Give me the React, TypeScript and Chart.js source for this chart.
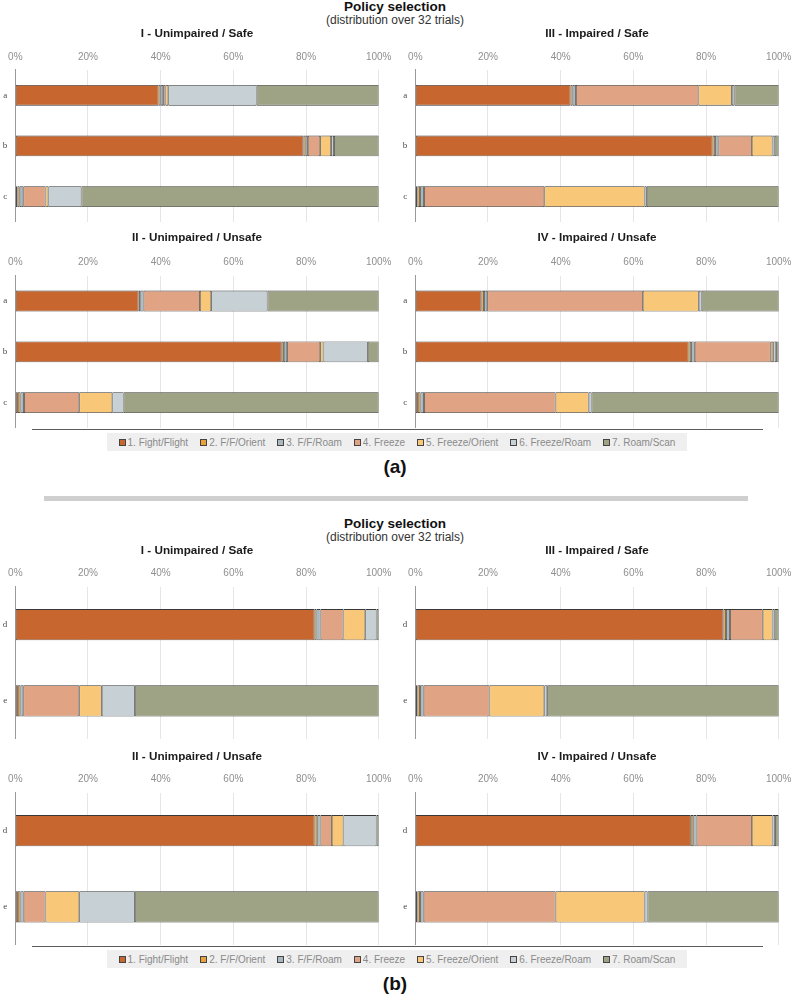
import React, { useEffect, useRef } from 'react';
import { Chart, registerables } from 'chart.js';

Chart.register(...registerables);

const SANS = '"Liberation Sans", Arial, Helvetica, sans-serif';
const SERIF = '"Liberation Serif", "DejaVu Serif", serif';

// ---------- data ----------
const categoriesA = ['a', 'b', 'c'];
const categoriesB = ['d', 'e'];
const policyLabels = [
  '1. Fight/Flight',
  '2. F/F/Orient',
  '3. F/F/Roam',
  '4. Freeze',
  '5. Freeze/Orient',
  '6. Freeze/Roam',
  '7. Roam/Scan',
];
const xTickLabels = ['0%', '20%', '40%', '60%', '80%', '100%'];
const panelTitles = [
  'I - Unimpaired / Safe',
  'II - Unimpaired / Unsafe',
  'III - Impaired / Safe',
  'IV - Impaired / Unsafe',
];
const figureTitle = 'Policy selection';
const figureSubtitle = '(distribution over 32 trials)';
const figureLabels = ['(a)', '(b)'];

// each row = one category, values in % per policy (1..7)
const figA_I = [
  [39.4, 0.6, 0.7, 0.6, 0.8, 24.3, 33.6],
  [79.3, 0.6, 0.6, 3.4, 3.0, 0.8, 12.3],
  [0.6, 0.6, 1.0, 6.1, 0.8, 9.1, 81.8],
];
const figA_II = [
  [33.9, 0.5, 0.9, 15.5, 3.1, 15.5, 30.6],
  [73.3, 0.6, 0.9, 9.1, 0.9, 12.2, 3.0],
  [0.7, 0.7, 1.0, 15.2, 9.1, 3.1, 70.2],
];
const figA_III = [
  [42.7, 0.6, 0.9, 33.7, 9.2, 0.7, 12.2],
  [81.8, 0.7, 0.9, 9.2, 5.7, 0.6, 1.1],
  [0.6, 0.7, 1.1, 33.1, 27.6, 0.6, 36.3],
];
const figA_IV = [
  [18.2, 0.7, 0.9, 42.8, 15.4, 0.8, 21.2],
  [75.2, 0.7, 1.0, 20.9, 0.7, 0.8, 0.7],
  [0.7, 0.7, 1.0, 36.2, 9.1, 0.8, 51.5],
];
const figB_I = [
  [82.3, 0.6, 1.1, 6.3, 6.0, 3.1, 0.6],
  [0.7, 0.7, 0.8, 15.4, 6.2, 9.1, 67.1],
];
const figB_II = [
  [82.3, 0.8, 0.9, 3.1, 3.2, 9.1, 0.6],
  [0.7, 0.7, 0.9, 6.0, 9.3, 15.3, 67.1],
];
const figB_III = [
  [84.8, 0.7, 1.1, 9.0, 2.7, 0.6, 1.1],
  [0.6, 0.7, 1.0, 18.1, 15.1, 0.8, 63.7],
];
const figB_IV = [
  [75.8, 0.7, 0.9, 15.2, 5.7, 0.7, 1.0],
  [0.6, 0.7, 1.0, 36.3, 24.5, 0.8, 36.1],
];

// ---------- styles ----------
const policyColors = ['#C8662F', '#E9A23B', '#A9B8BF', '#E0A383', '#F8C878', '#C6D0D5', '#9DA384'];

type PanelProps = {
  left: number;
  top: number;
  width: number;
  height: number;
  xAxisH: number;
  yAxisW: number;
  padRight: number;
  title: string;
  cats: string[];
  rows: number[][];
};

function Panel({ left, top, width, height, xAxisH, yAxisW, padRight, title, cats, rows }: PanelProps) {
  const ref = useRef<HTMLCanvasElement | null>(null);
  useEffect(() => {
    if (!ref.current) return;
    const chart = new Chart(ref.current, {
      type: 'bar',
      data: {
        labels: cats,
        datasets: policyLabels.map((label, i) => ({
          label,
          data: rows.map((r) => r[i]),
          backgroundColor: policyColors[i],
          borderColor: '#383838',
          borderWidth: 0.8,
          borderSkipped: false,
          barPercentage: 0.41,
          categoryPercentage: 1,
        })),
      },
      options: {
        indexAxis: 'y',
        responsive: false,
        maintainAspectRatio: false,
        animation: false,
        layout: { padding: { left: 0, right: padRight, top: 0, bottom: 0 } },
        plugins: {
          legend: { display: false },
          tooltip: { enabled: false },
          title: {
            display: true,
            fullSize: false,
            text: title,
            color: '#1b1b1b',
            font: { family: SANS, size: 11.7, weight: 'bold', lineHeight: 1.2 },
            padding: 0,
          },
        },
        scales: {
          x: {
            type: 'linear',
            stacked: true,
            position: 'top',
            min: 0,
            max: 100,
            ticks: {
              stepSize: 20,
              padding: 7,
              color: '#8f8f8f',
              font: { family: SANS, size: 10 },
              maxRotation: 0,
              autoSkip: false,
              callback: (_v: any, i: number) => xTickLabels[i],
            },
            grid: {
              color: (ctx: any) => (ctx.index === 0 ? 'rgba(0,0,0,0)' : '#e6e6e6'),
              lineWidth: 1,
              drawTicks: false,
            },
            border: { display: false },
            afterFit: (s: any) => {
              s.height = xAxisH;
              s.paddingLeft = 0;
              s.paddingRight = 0;
            },
          },
          y: {
            type: 'category',
            stacked: true,
            ticks: { padding: 8, color: '#4a4a4a', font: { family: SERIF, size: 9 } },
            grid: { display: false, drawTicks: false },
            border: { display: true, color: '#9a9a9a', width: 1 },
            afterFit: (s: any) => {
              s.width = yAxisW;
              s.paddingTop = 0;
              s.paddingBottom = 0;
            },
          },
        },
      },
    } as any);
    return () => chart.destroy();
  }, []);
  return (
    <canvas
      ref={ref}
      width={width}
      height={height}
      style={{ position: 'absolute', left, top, width, height, display: 'block' }}
    />
  );
}

function Text({ x, y, size, bold, color, children }: any) {
  return (
    <div
      style={{
        position: 'absolute',
        left: x,
        top: y,
        transform: 'translate(-50%, -50%)',
        fontFamily: SANS,
        fontSize: size,
        fontWeight: bold ? 'bold' : 'normal',
        color,
        lineHeight: 1,
        whiteSpace: 'nowrap',
      }}
    >
      {children}
    </div>
  );
}

function Legend({ top }: { top: number }) {
  return (
    <>
      <div style={{ position: 'absolute', left: 32, top: top - 4, width: 731, height: 1, background: '#5a5a5a' }} />
      <div
        style={{
          position: 'absolute',
          left: 107,
          top,
          width: 580,
          height: 18,
          background: '#efefef',
          display: 'flex',
          alignItems: 'center',
          justifyContent: 'center',
          gap: 12,
          fontFamily: SANS,
          fontSize: 10,
          color: '#8a8a8a',
          whiteSpace: 'nowrap',
        }}
      >
        {policyLabels.map((l, i) => (
          <div key={l} style={{ display: 'flex', alignItems: 'center' }}>
            <span
              style={{
                display: 'inline-block',
                width: 5,
                height: 5,
                background: policyColors[i],
                border: '0.8px solid #444',
                marginRight: 2,
              }}
            />
            <span>{l}</span>
          </div>
        ))}
      </div>
    </>
  );
}

function Figure({ offset, rows, cats, label, firstTopH, secondTopH }: any) {
  const t1 = 27 + offset;
  const t2 = offset === 0 ? 231 : 750;
  return (
    <>
      <Text x={395} y={6.6 + offset} size={13.5} bold color="#111">
        {figureTitle}
      </Text>
      <Text x={395} y={20 + offset} size={12} color="#333">
        {figureSubtitle}
      </Text>
      <Panel left={0} top={t1} width={395} height={195} xAxisH={firstTopH} yAxisW={15.3} padRight={16.3} title={panelTitles[0]} cats={cats} rows={rows[0]} />
      <Panel left={400} top={t1} width={393} height={195} xAxisH={firstTopH} yAxisW={15.3} padRight={14.3} title={panelTitles[2]} cats={cats} rows={rows[2]} />
      <Panel left={0} top={t2} width={395} height={offset === 0 ? 197 : 195} xAxisH={secondTopH} yAxisW={15.3} padRight={16.3} title={panelTitles[1]} cats={cats} rows={rows[1]} />
      <Panel left={400} top={t2} width={393} height={offset === 0 ? 197 : 195} xAxisH={secondTopH} yAxisW={15.3} padRight={14.3} title={panelTitles[3]} cats={cats} rows={rows[3]} />
      <Legend top={433 + offset} />
      <Text x={395} y={465.5 + offset} size={19} bold color="#111">
        {label}
      </Text>
    </>
  );
}

export default function App() {
  return (
    <div
      style={{
        position: 'absolute',
        left: 0,
        top: 0,
        width: 793,
        height: 995,
        overflow: 'hidden',
        background: '#ffffff',
      }}
    >
      <Figure offset={0} rows={[figA_I, figA_II, figA_III, figA_IV]} cats={categoriesA} label={figureLabels[0]} firstTopH={28.9} secondTopH={30.6} />
      <div style={{ position: 'absolute', left: 44, top: 496, width: 704, height: 5, background: '#cfcfcf' }} />
      <Figure offset={517} rows={[figB_I, figB_II, figB_III, figB_IV]} cats={categoriesB} label={figureLabels[1]} firstTopH={28.6} secondTopH={28.6} />
    </div>
  );
}
